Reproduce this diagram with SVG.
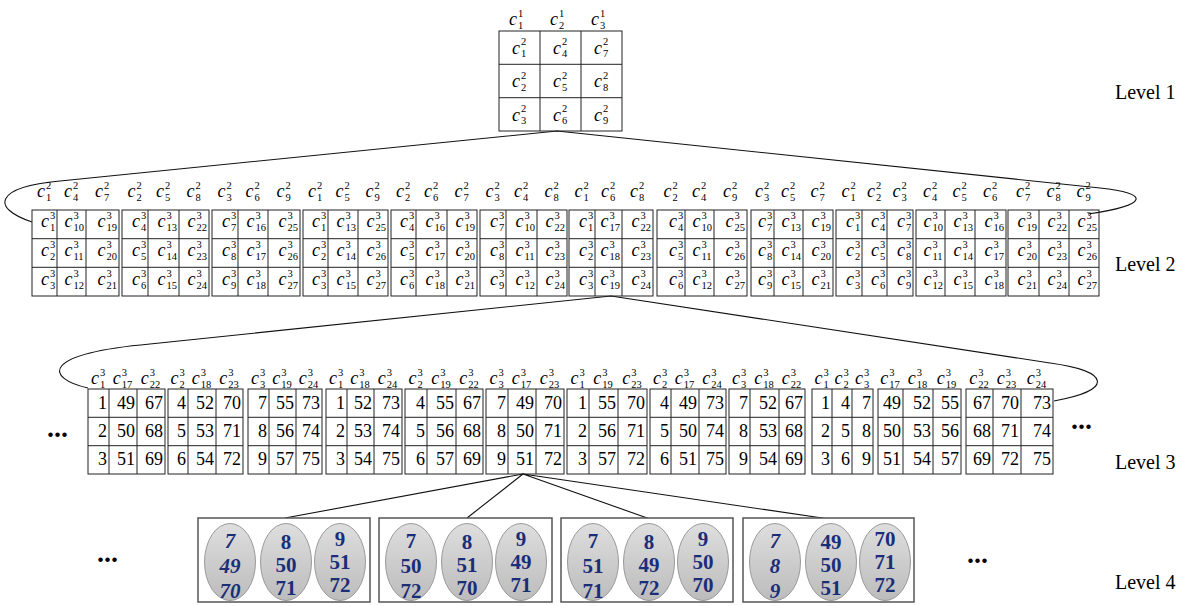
<svg xmlns="http://www.w3.org/2000/svg" width="1192" height="606" viewBox="0 0 1192 606">
<style>
.g rect,.g path{fill:none;stroke:#222;stroke-width:1}
.m{font-family:"Liberation Serif",serif;font-style:italic;font-size:18px;fill:#000}
.m tspan{font-style:normal;font-size:10.5px}
.n{font-family:"Liberation Serif",serif;font-size:18px;text-anchor:end;fill:#000}
.lv{font-family:"Liberation Serif",serif;font-size:20px;fill:#000}
.dots{font-family:"Liberation Serif",serif;font-size:28px;font-weight:bold;text-anchor:middle;fill:#000}
.box{fill:#fff;stroke:#555;stroke-width:1.5}
.el{fill:url(#eg);stroke:#9a9a9a;stroke-width:1}
.t{font-family:"Liberation Serif",serif;font-weight:bold;font-size:21px;fill:#1a2e78;text-anchor:middle}
.i{font-style:italic}
.conn path{fill:none;stroke:#111;stroke-width:1.1}
</style>
<defs>
<linearGradient id="eg" x1="0" y1="0" x2="0" y2="1">
<stop offset="0" stop-color="#dedede"/>
<stop offset="1" stop-color="#bcbcbc"/>
</linearGradient>
</defs>

<g id="connectors" class="conn">
<path d="M32,222 C-10,208 -5,187 60,181 L557,131 L1100,188 C1150,193 1150,205 1088,214"/>
<path d="M88,388 C45,378 40,354 150,344 L611,296 L1050,363 C1110,371 1115,390 1054,401"/>
<path d="M523,474 L285,518 M523,474 L467,518 M523,474 L650,519 M523,474 L829,519"/>
</g>

<g id="level1" class="g">
<rect x="499" y="31" width="123" height="100"/>
<path d="M540 31V131M581 31V131M499 64.3H622M499 97.7H622"/>
<text class="m" transform="translate(518,25)" x="-9">c<tspan x="0" dy="-8.2">1</tspan><tspan x="0" dy="11.7">1</tspan></text>
<text class="m" transform="translate(559,25)" x="-9">c<tspan x="0" dy="-8.2">1</tspan><tspan x="0" dy="11.7">2</tspan></text>
<text class="m" transform="translate(600,25)" x="-9">c<tspan x="0" dy="-8.2">1</tspan><tspan x="0" dy="11.7">3</tspan></text>
<text class="m" transform="translate(521,53.5)" x="-9">c<tspan x="0" dy="-8.2">2</tspan><tspan x="0" dy="11.7">1</tspan></text>
<text class="m" transform="translate(521,87)" x="-9">c<tspan x="0" dy="-8.2">2</tspan><tspan x="0" dy="11.7">2</tspan></text>
<text class="m" transform="translate(521,120.5)" x="-9">c<tspan x="0" dy="-8.2">2</tspan><tspan x="0" dy="11.7">3</tspan></text>
<text class="m" transform="translate(562,53.5)" x="-9">c<tspan x="0" dy="-8.2">2</tspan><tspan x="0" dy="11.7">4</tspan></text>
<text class="m" transform="translate(562,87)" x="-9">c<tspan x="0" dy="-8.2">2</tspan><tspan x="0" dy="11.7">5</tspan></text>
<text class="m" transform="translate(562,120.5)" x="-9">c<tspan x="0" dy="-8.2">2</tspan><tspan x="0" dy="11.7">6</tspan></text>
<text class="m" transform="translate(603,53.5)" x="-9">c<tspan x="0" dy="-8.2">2</tspan><tspan x="0" dy="11.7">7</tspan></text>
<text class="m" transform="translate(603,87)" x="-9">c<tspan x="0" dy="-8.2">2</tspan><tspan x="0" dy="11.7">8</tspan></text>
<text class="m" transform="translate(603,120.5)" x="-9">c<tspan x="0" dy="-8.2">2</tspan><tspan x="0" dy="11.7">9</tspan></text>
</g>

<g id="l2b1" class="g">
<rect x="32" y="210" width="87" height="86"/>
<path d="M57 210V296M86 210V296M32 238.7H119M32 267.3H119"/>
<text class="m" transform="translate(46,197)" x="-9">c<tspan x="0" dy="-8.2">2</tspan><tspan x="0" dy="11.7">1</tspan></text>
<text class="m" transform="translate(73,197)" x="-9">c<tspan x="0" dy="-8.2">2</tspan><tspan x="0" dy="11.7">4</tspan></text>
<text class="m" transform="translate(104,197)" x="-9">c<tspan x="0" dy="-8.2">2</tspan><tspan x="0" dy="11.7">7</tspan></text>
<text class="m" transform="translate(50,227)" x="-9">c<tspan x="0" dy="-8.2">3</tspan><tspan x="0" dy="11.7">1</tspan></text>
<text class="m" transform="translate(50,256)" x="-9">c<tspan x="0" dy="-8.2">3</tspan><tspan x="0" dy="11.7">2</tspan></text>
<text class="m" transform="translate(50,285)" x="-9">c<tspan x="0" dy="-8.2">3</tspan><tspan x="0" dy="11.7">3</tspan></text>
<text class="m" transform="translate(73.5,227)" x="-9">c<tspan x="0" dy="-8.2">3</tspan><tspan x="0" dy="11.7">10</tspan></text>
<text class="m" transform="translate(73.5,256)" x="-9">c<tspan x="0" dy="-8.2">3</tspan><tspan x="0" dy="11.7">11</tspan></text>
<text class="m" transform="translate(73.5,285)" x="-9">c<tspan x="0" dy="-8.2">3</tspan><tspan x="0" dy="11.7">12</tspan></text>
<text class="m" transform="translate(106.5,227)" x="-9">c<tspan x="0" dy="-8.2">3</tspan><tspan x="0" dy="11.7">19</tspan></text>
<text class="m" transform="translate(106.5,256)" x="-9">c<tspan x="0" dy="-8.2">3</tspan><tspan x="0" dy="11.7">20</tspan></text>
<text class="m" transform="translate(106.5,285)" x="-9">c<tspan x="0" dy="-8.2">3</tspan><tspan x="0" dy="11.7">21</tspan></text>
</g>

<g id="l2b2" class="g">
<rect x="122" y="210" width="87" height="86"/>
<path d="M148 210V296M179 210V296M122 238.7H209M122 267.3H209"/>
<text class="m" transform="translate(136.5,197)" x="-9">c<tspan x="0" dy="-8.2">2</tspan><tspan x="0" dy="11.7">2</tspan></text>
<text class="m" transform="translate(165,197)" x="-9">c<tspan x="0" dy="-8.2">2</tspan><tspan x="0" dy="11.7">5</tspan></text>
<text class="m" transform="translate(195.5,197)" x="-9">c<tspan x="0" dy="-8.2">2</tspan><tspan x="0" dy="11.7">8</tspan></text>
<text class="m" transform="translate(141,227)" x="-9">c<tspan x="0" dy="-8.2">3</tspan><tspan x="0" dy="11.7">4</tspan></text>
<text class="m" transform="translate(141,256)" x="-9">c<tspan x="0" dy="-8.2">3</tspan><tspan x="0" dy="11.7">5</tspan></text>
<text class="m" transform="translate(141,285)" x="-9">c<tspan x="0" dy="-8.2">3</tspan><tspan x="0" dy="11.7">6</tspan></text>
<text class="m" transform="translate(166.5,227)" x="-9">c<tspan x="0" dy="-8.2">3</tspan><tspan x="0" dy="11.7">13</tspan></text>
<text class="m" transform="translate(166.5,256)" x="-9">c<tspan x="0" dy="-8.2">3</tspan><tspan x="0" dy="11.7">14</tspan></text>
<text class="m" transform="translate(166.5,285)" x="-9">c<tspan x="0" dy="-8.2">3</tspan><tspan x="0" dy="11.7">15</tspan></text>
<text class="m" transform="translate(196.5,227)" x="-9">c<tspan x="0" dy="-8.2">3</tspan><tspan x="0" dy="11.7">22</tspan></text>
<text class="m" transform="translate(196.5,256)" x="-9">c<tspan x="0" dy="-8.2">3</tspan><tspan x="0" dy="11.7">23</tspan></text>
<text class="m" transform="translate(196.5,285)" x="-9">c<tspan x="0" dy="-8.2">3</tspan><tspan x="0" dy="11.7">24</tspan></text>
</g>

<g id="l2b3" class="g">
<rect x="212" y="210" width="88" height="86"/>
<path d="M238 210V296M268 210V296M212 238.7H300M212 267.3H300"/>
<text class="m" transform="translate(226.5,197)" x="-9">c<tspan x="0" dy="-8.2">2</tspan><tspan x="0" dy="11.7">3</tspan></text>
<text class="m" transform="translate(254.5,197)" x="-9">c<tspan x="0" dy="-8.2">2</tspan><tspan x="0" dy="11.7">6</tspan></text>
<text class="m" transform="translate(285.5,197)" x="-9">c<tspan x="0" dy="-8.2">2</tspan><tspan x="0" dy="11.7">9</tspan></text>
<text class="m" transform="translate(231,227)" x="-9">c<tspan x="0" dy="-8.2">3</tspan><tspan x="0" dy="11.7">7</tspan></text>
<text class="m" transform="translate(231,256)" x="-9">c<tspan x="0" dy="-8.2">3</tspan><tspan x="0" dy="11.7">8</tspan></text>
<text class="m" transform="translate(231,285)" x="-9">c<tspan x="0" dy="-8.2">3</tspan><tspan x="0" dy="11.7">9</tspan></text>
<text class="m" transform="translate(255.5,227)" x="-9">c<tspan x="0" dy="-8.2">3</tspan><tspan x="0" dy="11.7">16</tspan></text>
<text class="m" transform="translate(255.5,256)" x="-9">c<tspan x="0" dy="-8.2">3</tspan><tspan x="0" dy="11.7">17</tspan></text>
<text class="m" transform="translate(255.5,285)" x="-9">c<tspan x="0" dy="-8.2">3</tspan><tspan x="0" dy="11.7">18</tspan></text>
<text class="m" transform="translate(287.5,227)" x="-9">c<tspan x="0" dy="-8.2">3</tspan><tspan x="0" dy="11.7">25</tspan></text>
<text class="m" transform="translate(287.5,256)" x="-9">c<tspan x="0" dy="-8.2">3</tspan><tspan x="0" dy="11.7">26</tspan></text>
<text class="m" transform="translate(287.5,285)" x="-9">c<tspan x="0" dy="-8.2">3</tspan><tspan x="0" dy="11.7">27</tspan></text>
</g>

<g id="l2b4" class="g">
<rect x="303" y="210" width="85" height="86"/>
<path d="M328 210V296M358 210V296M303 238.7H388M303 267.3H388"/>
<text class="m" transform="translate(317,197)" x="-9">c<tspan x="0" dy="-8.2">2</tspan><tspan x="0" dy="11.7">1</tspan></text>
<text class="m" transform="translate(344.5,197)" x="-9">c<tspan x="0" dy="-8.2">2</tspan><tspan x="0" dy="11.7">5</tspan></text>
<text class="m" transform="translate(374.5,197)" x="-9">c<tspan x="0" dy="-8.2">2</tspan><tspan x="0" dy="11.7">9</tspan></text>
<text class="m" transform="translate(321,227)" x="-9">c<tspan x="0" dy="-8.2">3</tspan><tspan x="0" dy="11.7">1</tspan></text>
<text class="m" transform="translate(321,256)" x="-9">c<tspan x="0" dy="-8.2">3</tspan><tspan x="0" dy="11.7">2</tspan></text>
<text class="m" transform="translate(321,285)" x="-9">c<tspan x="0" dy="-8.2">3</tspan><tspan x="0" dy="11.7">3</tspan></text>
<text class="m" transform="translate(345.5,227)" x="-9">c<tspan x="0" dy="-8.2">3</tspan><tspan x="0" dy="11.7">13</tspan></text>
<text class="m" transform="translate(345.5,256)" x="-9">c<tspan x="0" dy="-8.2">3</tspan><tspan x="0" dy="11.7">14</tspan></text>
<text class="m" transform="translate(345.5,285)" x="-9">c<tspan x="0" dy="-8.2">3</tspan><tspan x="0" dy="11.7">15</tspan></text>
<text class="m" transform="translate(375.5,227)" x="-9">c<tspan x="0" dy="-8.2">3</tspan><tspan x="0" dy="11.7">25</tspan></text>
<text class="m" transform="translate(375.5,256)" x="-9">c<tspan x="0" dy="-8.2">3</tspan><tspan x="0" dy="11.7">26</tspan></text>
<text class="m" transform="translate(375.5,285)" x="-9">c<tspan x="0" dy="-8.2">3</tspan><tspan x="0" dy="11.7">27</tspan></text>
</g>

<g id="l2b5" class="g">
<rect x="391" y="210" width="86" height="86"/>
<path d="M416 210V296M447 210V296M391 238.7H477M391 267.3H477"/>
<text class="m" transform="translate(405,197)" x="-9">c<tspan x="0" dy="-8.2">2</tspan><tspan x="0" dy="11.7">2</tspan></text>
<text class="m" transform="translate(433,197)" x="-9">c<tspan x="0" dy="-8.2">2</tspan><tspan x="0" dy="11.7">6</tspan></text>
<text class="m" transform="translate(463.5,197)" x="-9">c<tspan x="0" dy="-8.2">2</tspan><tspan x="0" dy="11.7">7</tspan></text>
<text class="m" transform="translate(409,227)" x="-9">c<tspan x="0" dy="-8.2">3</tspan><tspan x="0" dy="11.7">4</tspan></text>
<text class="m" transform="translate(409,256)" x="-9">c<tspan x="0" dy="-8.2">3</tspan><tspan x="0" dy="11.7">5</tspan></text>
<text class="m" transform="translate(409,285)" x="-9">c<tspan x="0" dy="-8.2">3</tspan><tspan x="0" dy="11.7">6</tspan></text>
<text class="m" transform="translate(434.5,227)" x="-9">c<tspan x="0" dy="-8.2">3</tspan><tspan x="0" dy="11.7">16</tspan></text>
<text class="m" transform="translate(434.5,256)" x="-9">c<tspan x="0" dy="-8.2">3</tspan><tspan x="0" dy="11.7">17</tspan></text>
<text class="m" transform="translate(434.5,285)" x="-9">c<tspan x="0" dy="-8.2">3</tspan><tspan x="0" dy="11.7">18</tspan></text>
<text class="m" transform="translate(464.5,227)" x="-9">c<tspan x="0" dy="-8.2">3</tspan><tspan x="0" dy="11.7">19</tspan></text>
<text class="m" transform="translate(464.5,256)" x="-9">c<tspan x="0" dy="-8.2">3</tspan><tspan x="0" dy="11.7">20</tspan></text>
<text class="m" transform="translate(464.5,285)" x="-9">c<tspan x="0" dy="-8.2">3</tspan><tspan x="0" dy="11.7">21</tspan></text>
</g>

<g id="l2b6" class="g">
<rect x="480" y="210" width="87" height="86"/>
<path d="M506 210V296M537 210V296M480 238.7H567M480 267.3H567"/>
<text class="m" transform="translate(494.5,197)" x="-9">c<tspan x="0" dy="-8.2">2</tspan><tspan x="0" dy="11.7">3</tspan></text>
<text class="m" transform="translate(523,197)" x="-9">c<tspan x="0" dy="-8.2">2</tspan><tspan x="0" dy="11.7">4</tspan></text>
<text class="m" transform="translate(553.5,197)" x="-9">c<tspan x="0" dy="-8.2">2</tspan><tspan x="0" dy="11.7">8</tspan></text>
<text class="m" transform="translate(499,227)" x="-9">c<tspan x="0" dy="-8.2">3</tspan><tspan x="0" dy="11.7">7</tspan></text>
<text class="m" transform="translate(499,256)" x="-9">c<tspan x="0" dy="-8.2">3</tspan><tspan x="0" dy="11.7">8</tspan></text>
<text class="m" transform="translate(499,285)" x="-9">c<tspan x="0" dy="-8.2">3</tspan><tspan x="0" dy="11.7">9</tspan></text>
<text class="m" transform="translate(524.5,227)" x="-9">c<tspan x="0" dy="-8.2">3</tspan><tspan x="0" dy="11.7">10</tspan></text>
<text class="m" transform="translate(524.5,256)" x="-9">c<tspan x="0" dy="-8.2">3</tspan><tspan x="0" dy="11.7">11</tspan></text>
<text class="m" transform="translate(524.5,285)" x="-9">c<tspan x="0" dy="-8.2">3</tspan><tspan x="0" dy="11.7">12</tspan></text>
<text class="m" transform="translate(554.5,227)" x="-9">c<tspan x="0" dy="-8.2">3</tspan><tspan x="0" dy="11.7">22</tspan></text>
<text class="m" transform="translate(554.5,256)" x="-9">c<tspan x="0" dy="-8.2">3</tspan><tspan x="0" dy="11.7">23</tspan></text>
<text class="m" transform="translate(554.5,285)" x="-9">c<tspan x="0" dy="-8.2">3</tspan><tspan x="0" dy="11.7">24</tspan></text>
</g>

<g id="l2b7" class="g">
<rect x="569" y="210" width="84" height="86"/>
<path d="M595 210V296M622 210V296M569 238.7H653M569 267.3H653"/>
<text class="m" transform="translate(583.5,197)" x="-9">c<tspan x="0" dy="-8.2">2</tspan><tspan x="0" dy="11.7">1</tspan></text>
<text class="m" transform="translate(610,197)" x="-9">c<tspan x="0" dy="-8.2">2</tspan><tspan x="0" dy="11.7">6</tspan></text>
<text class="m" transform="translate(639,197)" x="-9">c<tspan x="0" dy="-8.2">2</tspan><tspan x="0" dy="11.7">8</tspan></text>
<text class="m" transform="translate(588,227)" x="-9">c<tspan x="0" dy="-8.2">3</tspan><tspan x="0" dy="11.7">1</tspan></text>
<text class="m" transform="translate(588,256)" x="-9">c<tspan x="0" dy="-8.2">3</tspan><tspan x="0" dy="11.7">2</tspan></text>
<text class="m" transform="translate(588,285)" x="-9">c<tspan x="0" dy="-8.2">3</tspan><tspan x="0" dy="11.7">3</tspan></text>
<text class="m" transform="translate(609.5,227)" x="-9">c<tspan x="0" dy="-8.2">3</tspan><tspan x="0" dy="11.7">17</tspan></text>
<text class="m" transform="translate(609.5,256)" x="-9">c<tspan x="0" dy="-8.2">3</tspan><tspan x="0" dy="11.7">18</tspan></text>
<text class="m" transform="translate(609.5,285)" x="-9">c<tspan x="0" dy="-8.2">3</tspan><tspan x="0" dy="11.7">19</tspan></text>
<text class="m" transform="translate(640.5,227)" x="-9">c<tspan x="0" dy="-8.2">3</tspan><tspan x="0" dy="11.7">22</tspan></text>
<text class="m" transform="translate(640.5,256)" x="-9">c<tspan x="0" dy="-8.2">3</tspan><tspan x="0" dy="11.7">23</tspan></text>
<text class="m" transform="translate(640.5,285)" x="-9">c<tspan x="0" dy="-8.2">3</tspan><tspan x="0" dy="11.7">24</tspan></text>
</g>

<g id="l2b8" class="g">
<rect x="657" y="210" width="90" height="86"/>
<path d="M685 210V296M714 210V296M657 238.7H747M657 267.3H747"/>
<text class="m" transform="translate(672.5,197)" x="-9">c<tspan x="0" dy="-8.2">2</tspan><tspan x="0" dy="11.7">2</tspan></text>
<text class="m" transform="translate(701,197)" x="-9">c<tspan x="0" dy="-8.2">2</tspan><tspan x="0" dy="11.7">4</tspan></text>
<text class="m" transform="translate(732,197)" x="-9">c<tspan x="0" dy="-8.2">2</tspan><tspan x="0" dy="11.7">9</tspan></text>
<text class="m" transform="translate(678,227)" x="-9">c<tspan x="0" dy="-8.2">3</tspan><tspan x="0" dy="11.7">4</tspan></text>
<text class="m" transform="translate(678,256)" x="-9">c<tspan x="0" dy="-8.2">3</tspan><tspan x="0" dy="11.7">5</tspan></text>
<text class="m" transform="translate(678,285)" x="-9">c<tspan x="0" dy="-8.2">3</tspan><tspan x="0" dy="11.7">6</tspan></text>
<text class="m" transform="translate(701.5,227)" x="-9">c<tspan x="0" dy="-8.2">3</tspan><tspan x="0" dy="11.7">10</tspan></text>
<text class="m" transform="translate(701.5,256)" x="-9">c<tspan x="0" dy="-8.2">3</tspan><tspan x="0" dy="11.7">11</tspan></text>
<text class="m" transform="translate(701.5,285)" x="-9">c<tspan x="0" dy="-8.2">3</tspan><tspan x="0" dy="11.7">12</tspan></text>
<text class="m" transform="translate(734.5,227)" x="-9">c<tspan x="0" dy="-8.2">3</tspan><tspan x="0" dy="11.7">25</tspan></text>
<text class="m" transform="translate(734.5,256)" x="-9">c<tspan x="0" dy="-8.2">3</tspan><tspan x="0" dy="11.7">26</tspan></text>
<text class="m" transform="translate(734.5,285)" x="-9">c<tspan x="0" dy="-8.2">3</tspan><tspan x="0" dy="11.7">27</tspan></text>
</g>

<g id="l2b9" class="g">
<rect x="751" y="210" width="82" height="86"/>
<path d="M774 210V296M803 210V296M751 238.7H833M751 267.3H833"/>
<text class="m" transform="translate(764,197)" x="-9">c<tspan x="0" dy="-8.2">2</tspan><tspan x="0" dy="11.7">3</tspan></text>
<text class="m" transform="translate(790,197)" x="-9">c<tspan x="0" dy="-8.2">2</tspan><tspan x="0" dy="11.7">5</tspan></text>
<text class="m" transform="translate(819.5,197)" x="-9">c<tspan x="0" dy="-8.2">2</tspan><tspan x="0" dy="11.7">7</tspan></text>
<text class="m" transform="translate(767,227)" x="-9">c<tspan x="0" dy="-8.2">3</tspan><tspan x="0" dy="11.7">7</tspan></text>
<text class="m" transform="translate(767,256)" x="-9">c<tspan x="0" dy="-8.2">3</tspan><tspan x="0" dy="11.7">8</tspan></text>
<text class="m" transform="translate(767,285)" x="-9">c<tspan x="0" dy="-8.2">3</tspan><tspan x="0" dy="11.7">9</tspan></text>
<text class="m" transform="translate(790.5,227)" x="-9">c<tspan x="0" dy="-8.2">3</tspan><tspan x="0" dy="11.7">13</tspan></text>
<text class="m" transform="translate(790.5,256)" x="-9">c<tspan x="0" dy="-8.2">3</tspan><tspan x="0" dy="11.7">14</tspan></text>
<text class="m" transform="translate(790.5,285)" x="-9">c<tspan x="0" dy="-8.2">3</tspan><tspan x="0" dy="11.7">15</tspan></text>
<text class="m" transform="translate(820.5,227)" x="-9">c<tspan x="0" dy="-8.2">3</tspan><tspan x="0" dy="11.7">19</tspan></text>
<text class="m" transform="translate(820.5,256)" x="-9">c<tspan x="0" dy="-8.2">3</tspan><tspan x="0" dy="11.7">20</tspan></text>
<text class="m" transform="translate(820.5,285)" x="-9">c<tspan x="0" dy="-8.2">3</tspan><tspan x="0" dy="11.7">21</tspan></text>
</g>

<g id="l2b10" class="g">
<rect x="836" y="210" width="77" height="86"/>
<path d="M862 210V296M887 210V296M836 238.7H913M836 267.3H913"/>
<text class="m" transform="translate(850.5,197)" x="-9">c<tspan x="0" dy="-8.2">2</tspan><tspan x="0" dy="11.7">1</tspan></text>
<text class="m" transform="translate(876,197)" x="-9">c<tspan x="0" dy="-8.2">2</tspan><tspan x="0" dy="11.7">2</tspan></text>
<text class="m" transform="translate(901.5,197)" x="-9">c<tspan x="0" dy="-8.2">2</tspan><tspan x="0" dy="11.7">3</tspan></text>
<text class="m" transform="translate(855,227)" x="-9">c<tspan x="0" dy="-8.2">3</tspan><tspan x="0" dy="11.7">1</tspan></text>
<text class="m" transform="translate(855,256)" x="-9">c<tspan x="0" dy="-8.2">3</tspan><tspan x="0" dy="11.7">2</tspan></text>
<text class="m" transform="translate(855,285)" x="-9">c<tspan x="0" dy="-8.2">3</tspan><tspan x="0" dy="11.7">3</tspan></text>
<text class="m" transform="translate(880,227)" x="-9">c<tspan x="0" dy="-8.2">3</tspan><tspan x="0" dy="11.7">4</tspan></text>
<text class="m" transform="translate(880,256)" x="-9">c<tspan x="0" dy="-8.2">3</tspan><tspan x="0" dy="11.7">5</tspan></text>
<text class="m" transform="translate(880,285)" x="-9">c<tspan x="0" dy="-8.2">3</tspan><tspan x="0" dy="11.7">6</tspan></text>
<text class="m" transform="translate(906,227)" x="-9">c<tspan x="0" dy="-8.2">3</tspan><tspan x="0" dy="11.7">7</tspan></text>
<text class="m" transform="translate(906,256)" x="-9">c<tspan x="0" dy="-8.2">3</tspan><tspan x="0" dy="11.7">8</tspan></text>
<text class="m" transform="translate(906,285)" x="-9">c<tspan x="0" dy="-8.2">3</tspan><tspan x="0" dy="11.7">9</tspan></text>
</g>

<g id="l2b11" class="g">
<rect x="916" y="210" width="90" height="86"/>
<path d="M945 210V296M975 210V296M916 238.7H1006M916 267.3H1006"/>
<text class="m" transform="translate(932,197)" x="-9">c<tspan x="0" dy="-8.2">2</tspan><tspan x="0" dy="11.7">4</tspan></text>
<text class="m" transform="translate(961.5,197)" x="-9">c<tspan x="0" dy="-8.2">2</tspan><tspan x="0" dy="11.7">5</tspan></text>
<text class="m" transform="translate(992,197)" x="-9">c<tspan x="0" dy="-8.2">2</tspan><tspan x="0" dy="11.7">6</tspan></text>
<text class="m" transform="translate(932.5,227)" x="-9">c<tspan x="0" dy="-8.2">3</tspan><tspan x="0" dy="11.7">10</tspan></text>
<text class="m" transform="translate(932.5,256)" x="-9">c<tspan x="0" dy="-8.2">3</tspan><tspan x="0" dy="11.7">11</tspan></text>
<text class="m" transform="translate(932.5,285)" x="-9">c<tspan x="0" dy="-8.2">3</tspan><tspan x="0" dy="11.7">12</tspan></text>
<text class="m" transform="translate(962.5,227)" x="-9">c<tspan x="0" dy="-8.2">3</tspan><tspan x="0" dy="11.7">13</tspan></text>
<text class="m" transform="translate(962.5,256)" x="-9">c<tspan x="0" dy="-8.2">3</tspan><tspan x="0" dy="11.7">14</tspan></text>
<text class="m" transform="translate(962.5,285)" x="-9">c<tspan x="0" dy="-8.2">3</tspan><tspan x="0" dy="11.7">15</tspan></text>
<text class="m" transform="translate(993.5,227)" x="-9">c<tspan x="0" dy="-8.2">3</tspan><tspan x="0" dy="11.7">16</tspan></text>
<text class="m" transform="translate(993.5,256)" x="-9">c<tspan x="0" dy="-8.2">3</tspan><tspan x="0" dy="11.7">17</tspan></text>
<text class="m" transform="translate(993.5,285)" x="-9">c<tspan x="0" dy="-8.2">3</tspan><tspan x="0" dy="11.7">18</tspan></text>
</g>

<g id="l2b12" class="g">
<rect x="1008" y="210" width="91" height="86"/>
<path d="M1039 210V296M1069 210V296M1008 238.7H1099M1008 267.3H1099"/>
<text class="m" transform="translate(1025,197)" x="-9">c<tspan x="0" dy="-8.2">2</tspan><tspan x="0" dy="11.7">7</tspan></text>
<text class="m" transform="translate(1055.5,197)" x="-9">c<tspan x="0" dy="-8.2">2</tspan><tspan x="0" dy="11.7">8</tspan></text>
<text class="m" transform="translate(1085.5,197)" x="-9">c<tspan x="0" dy="-8.2">2</tspan><tspan x="0" dy="11.7">9</tspan></text>
<text class="m" transform="translate(1026.5,227)" x="-9">c<tspan x="0" dy="-8.2">3</tspan><tspan x="0" dy="11.7">19</tspan></text>
<text class="m" transform="translate(1026.5,256)" x="-9">c<tspan x="0" dy="-8.2">3</tspan><tspan x="0" dy="11.7">20</tspan></text>
<text class="m" transform="translate(1026.5,285)" x="-9">c<tspan x="0" dy="-8.2">3</tspan><tspan x="0" dy="11.7">21</tspan></text>
<text class="m" transform="translate(1056.5,227)" x="-9">c<tspan x="0" dy="-8.2">3</tspan><tspan x="0" dy="11.7">22</tspan></text>
<text class="m" transform="translate(1056.5,256)" x="-9">c<tspan x="0" dy="-8.2">3</tspan><tspan x="0" dy="11.7">23</tspan></text>
<text class="m" transform="translate(1056.5,285)" x="-9">c<tspan x="0" dy="-8.2">3</tspan><tspan x="0" dy="11.7">24</tspan></text>
<text class="m" transform="translate(1086.5,227)" x="-9">c<tspan x="0" dy="-8.2">3</tspan><tspan x="0" dy="11.7">25</tspan></text>
<text class="m" transform="translate(1086.5,256)" x="-9">c<tspan x="0" dy="-8.2">3</tspan><tspan x="0" dy="11.7">26</tspan></text>
<text class="m" transform="translate(1086.5,285)" x="-9">c<tspan x="0" dy="-8.2">3</tspan><tspan x="0" dy="11.7">27</tspan></text>
</g>

<g id="l3b1" class="g">
<rect x="88" y="389" width="77" height="85"/>
<path d="M109 389V474M137 389V474M88 417.3H165M88 445.7H165"/>
<text class="m" transform="translate(100,384)" x="-9">c<tspan x="0" dy="-8.2">3</tspan><tspan x="0" dy="11.7">1</tspan></text>
<text class="m" transform="translate(121.75,384)" x="-9">c<tspan x="0" dy="-8.2">3</tspan><tspan x="0" dy="11.7">17</tspan></text>
<text class="m" transform="translate(149.75,384)" x="-9">c<tspan x="0" dy="-8.2">3</tspan><tspan x="0" dy="11.7">22</tspan></text>
<text class="n" x="107" y="409">1<tspan x="107" dy="28">2</tspan><tspan x="107" dy="28">3</tspan></text>
<text class="n" x="135" y="409">49<tspan x="135" dy="28">50</tspan><tspan x="135" dy="28">51</tspan></text>
<text class="n" x="163" y="409">67<tspan x="163" dy="28">68</tspan><tspan x="163" dy="28">69</tspan></text>
</g>

<g id="l3b2" class="g">
<rect x="168" y="389" width="75" height="85"/>
<path d="M188 389V474M216 389V474M168 417.3H243M168 445.7H243"/>
<text class="m" transform="translate(179.5,384)" x="-9">c<tspan x="0" dy="-8.2">3</tspan><tspan x="0" dy="11.7">2</tspan></text>
<text class="m" transform="translate(200.75,384)" x="-9">c<tspan x="0" dy="-8.2">3</tspan><tspan x="0" dy="11.7">18</tspan></text>
<text class="m" transform="translate(228.25,384)" x="-9">c<tspan x="0" dy="-8.2">3</tspan><tspan x="0" dy="11.7">23</tspan></text>
<text class="n" x="186" y="409">4<tspan x="186" dy="28">5</tspan><tspan x="186" dy="28">6</tspan></text>
<text class="n" x="214" y="409">52<tspan x="214" dy="28">53</tspan><tspan x="214" dy="28">54</tspan></text>
<text class="n" x="241" y="409">70<tspan x="241" dy="28">71</tspan><tspan x="241" dy="28">72</tspan></text>
</g>

<g id="l3b3" class="g">
<rect x="248" y="389" width="74" height="85"/>
<path d="M269 389V474M296 389V474M248 417.3H322M248 445.7H322"/>
<text class="m" transform="translate(260,384)" x="-9">c<tspan x="0" dy="-8.2">3</tspan><tspan x="0" dy="11.7">3</tspan></text>
<text class="m" transform="translate(281.25,384)" x="-9">c<tspan x="0" dy="-8.2">3</tspan><tspan x="0" dy="11.7">19</tspan></text>
<text class="m" transform="translate(307.75,384)" x="-9">c<tspan x="0" dy="-8.2">3</tspan><tspan x="0" dy="11.7">24</tspan></text>
<text class="n" x="267" y="409">7<tspan x="267" dy="28">8</tspan><tspan x="267" dy="28">9</tspan></text>
<text class="n" x="294" y="409">55<tspan x="294" dy="28">56</tspan><tspan x="294" dy="28">57</tspan></text>
<text class="n" x="320" y="409">73<tspan x="320" dy="28">74</tspan><tspan x="320" dy="28">75</tspan></text>
</g>

<g id="l3b4" class="g">
<rect x="326" y="389" width="76" height="85"/>
<path d="M347 389V474M374 389V474M326 417.3H402M326 445.7H402"/>
<text class="m" transform="translate(338,384)" x="-9">c<tspan x="0" dy="-8.2">3</tspan><tspan x="0" dy="11.7">1</tspan></text>
<text class="m" transform="translate(359.25,384)" x="-9">c<tspan x="0" dy="-8.2">3</tspan><tspan x="0" dy="11.7">18</tspan></text>
<text class="m" transform="translate(386.75,384)" x="-9">c<tspan x="0" dy="-8.2">3</tspan><tspan x="0" dy="11.7">24</tspan></text>
<text class="n" x="345" y="409">1<tspan x="345" dy="28">2</tspan><tspan x="345" dy="28">3</tspan></text>
<text class="n" x="372" y="409">52<tspan x="372" dy="28">53</tspan><tspan x="372" dy="28">54</tspan></text>
<text class="n" x="400" y="409">73<tspan x="400" dy="28">74</tspan><tspan x="400" dy="28">75</tspan></text>
</g>

<g id="l3b5" class="g">
<rect x="405" y="389" width="78" height="85"/>
<path d="M427 389V474M456 389V474M405 417.3H483M405 445.7H483"/>
<text class="m" transform="translate(417.5,384)" x="-9">c<tspan x="0" dy="-8.2">3</tspan><tspan x="0" dy="11.7">2</tspan></text>
<text class="m" transform="translate(440.25,384)" x="-9">c<tspan x="0" dy="-8.2">3</tspan><tspan x="0" dy="11.7">19</tspan></text>
<text class="m" transform="translate(468.25,384)" x="-9">c<tspan x="0" dy="-8.2">3</tspan><tspan x="0" dy="11.7">22</tspan></text>
<text class="n" x="425" y="409">4<tspan x="425" dy="28">5</tspan><tspan x="425" dy="28">6</tspan></text>
<text class="n" x="454" y="409">55<tspan x="454" dy="28">56</tspan><tspan x="454" dy="28">57</tspan></text>
<text class="n" x="481" y="409">67<tspan x="481" dy="28">68</tspan><tspan x="481" dy="28">69</tspan></text>
</g>

<g id="l3b6" class="g">
<rect x="486" y="389" width="78" height="85"/>
<path d="M508 389V474M536 389V474M486 417.3H564M486 445.7H564"/>
<text class="m" transform="translate(498.5,384)" x="-9">c<tspan x="0" dy="-8.2">3</tspan><tspan x="0" dy="11.7">3</tspan></text>
<text class="m" transform="translate(520.75,384)" x="-9">c<tspan x="0" dy="-8.2">3</tspan><tspan x="0" dy="11.7">17</tspan></text>
<text class="m" transform="translate(548.75,384)" x="-9">c<tspan x="0" dy="-8.2">3</tspan><tspan x="0" dy="11.7">23</tspan></text>
<text class="n" x="506" y="409">7<tspan x="506" dy="28">8</tspan><tspan x="506" dy="28">9</tspan></text>
<text class="n" x="534" y="409">49<tspan x="534" dy="28">50</tspan><tspan x="534" dy="28">51</tspan></text>
<text class="n" x="562" y="409">70<tspan x="562" dy="28">71</tspan><tspan x="562" dy="28">72</tspan></text>
</g>

<g id="l3b7" class="g">
<rect x="567" y="389" width="80" height="85"/>
<path d="M589 389V474M618 389V474M567 417.3H647M567 445.7H647"/>
<text class="m" transform="translate(579.5,384)" x="-9">c<tspan x="0" dy="-8.2">3</tspan><tspan x="0" dy="11.7">1</tspan></text>
<text class="m" transform="translate(602.25,384)" x="-9">c<tspan x="0" dy="-8.2">3</tspan><tspan x="0" dy="11.7">19</tspan></text>
<text class="m" transform="translate(631.25,384)" x="-9">c<tspan x="0" dy="-8.2">3</tspan><tspan x="0" dy="11.7">23</tspan></text>
<text class="n" x="587" y="409">1<tspan x="587" dy="28">2</tspan><tspan x="587" dy="28">3</tspan></text>
<text class="n" x="616" y="409">55<tspan x="616" dy="28">56</tspan><tspan x="616" dy="28">57</tspan></text>
<text class="n" x="645" y="409">70<tspan x="645" dy="28">71</tspan><tspan x="645" dy="28">72</tspan></text>
</g>

<g id="l3b8" class="g">
<rect x="650" y="389" width="76" height="85"/>
<path d="M671 389V474M699 389V474M650 417.3H726M650 445.7H726"/>
<text class="m" transform="translate(662,384)" x="-9">c<tspan x="0" dy="-8.2">3</tspan><tspan x="0" dy="11.7">2</tspan></text>
<text class="m" transform="translate(683.75,384)" x="-9">c<tspan x="0" dy="-8.2">3</tspan><tspan x="0" dy="11.7">17</tspan></text>
<text class="m" transform="translate(711.25,384)" x="-9">c<tspan x="0" dy="-8.2">3</tspan><tspan x="0" dy="11.7">24</tspan></text>
<text class="n" x="669" y="409">4<tspan x="669" dy="28">5</tspan><tspan x="669" dy="28">6</tspan></text>
<text class="n" x="697" y="409">49<tspan x="697" dy="28">50</tspan><tspan x="697" dy="28">51</tspan></text>
<text class="n" x="724" y="409">73<tspan x="724" dy="28">74</tspan><tspan x="724" dy="28">75</tspan></text>
</g>

<g id="l3b9" class="g">
<rect x="729" y="389" width="76" height="85"/>
<path d="M750 389V474M779 389V474M729 417.3H805M729 445.7H805"/>
<text class="m" transform="translate(741,384)" x="-9">c<tspan x="0" dy="-8.2">3</tspan><tspan x="0" dy="11.7">3</tspan></text>
<text class="m" transform="translate(763.25,384)" x="-9">c<tspan x="0" dy="-8.2">3</tspan><tspan x="0" dy="11.7">18</tspan></text>
<text class="m" transform="translate(790.75,384)" x="-9">c<tspan x="0" dy="-8.2">3</tspan><tspan x="0" dy="11.7">22</tspan></text>
<text class="n" x="748" y="409">7<tspan x="748" dy="28">8</tspan><tspan x="748" dy="28">9</tspan></text>
<text class="n" x="777" y="409">52<tspan x="777" dy="28">53</tspan><tspan x="777" dy="28">54</tspan></text>
<text class="n" x="803" y="409">67<tspan x="803" dy="28">68</tspan><tspan x="803" dy="28">69</tspan></text>
</g>

<g id="l3b10" class="g">
<rect x="812" y="389" width="61" height="85"/>
<path d="M832 389V474M852 389V474M812 417.3H873M812 445.7H873"/>
<text class="m" transform="translate(823.5,384)" x="-9">c<tspan x="0" dy="-8.2">3</tspan><tspan x="0" dy="11.7">1</tspan></text>
<text class="m" transform="translate(843.5,384)" x="-9">c<tspan x="0" dy="-8.2">3</tspan><tspan x="0" dy="11.7">2</tspan></text>
<text class="m" transform="translate(864,384)" x="-9">c<tspan x="0" dy="-8.2">3</tspan><tspan x="0" dy="11.7">3</tspan></text>
<text class="n" x="830" y="409">1<tspan x="830" dy="28">2</tspan><tspan x="830" dy="28">3</tspan></text>
<text class="n" x="850" y="409">4<tspan x="850" dy="28">5</tspan><tspan x="850" dy="28">6</tspan></text>
<text class="n" x="871" y="409">7<tspan x="871" dy="28">8</tspan><tspan x="871" dy="28">9</tspan></text>
</g>

<g id="l3b11" class="g">
<rect x="878" y="389" width="83" height="85"/>
<path d="M903 389V474M933 389V474M878 417.3H961M878 445.7H961"/>
<text class="m" transform="translate(889.25,384)" x="-9">c<tspan x="0" dy="-8.2">3</tspan><tspan x="0" dy="11.7">17</tspan></text>
<text class="m" transform="translate(916.75,384)" x="-9">c<tspan x="0" dy="-8.2">3</tspan><tspan x="0" dy="11.7">18</tspan></text>
<text class="m" transform="translate(945.75,384)" x="-9">c<tspan x="0" dy="-8.2">3</tspan><tspan x="0" dy="11.7">19</tspan></text>
<text class="n" x="901" y="409">49<tspan x="901" dy="28">50</tspan><tspan x="901" dy="28">51</tspan></text>
<text class="n" x="931" y="409">52<tspan x="931" dy="28">53</tspan><tspan x="931" dy="28">54</tspan></text>
<text class="n" x="959" y="409">55<tspan x="959" dy="28">56</tspan><tspan x="959" dy="28">57</tspan></text>
</g>

<g id="l3b12" class="g">
<rect x="966" y="389" width="87" height="85"/>
<path d="M993 389V474M1021 389V474M966 417.3H1053M966 445.7H1053"/>
<text class="m" transform="translate(978.25,384)" x="-9">c<tspan x="0" dy="-8.2">3</tspan><tspan x="0" dy="11.7">22</tspan></text>
<text class="m" transform="translate(1005.75,384)" x="-9">c<tspan x="0" dy="-8.2">3</tspan><tspan x="0" dy="11.7">23</tspan></text>
<text class="m" transform="translate(1035.75,384)" x="-9">c<tspan x="0" dy="-8.2">3</tspan><tspan x="0" dy="11.7">24</tspan></text>
<text class="n" x="991" y="409">67<tspan x="991" dy="28">68</tspan><tspan x="991" dy="28">69</tspan></text>
<text class="n" x="1019" y="409">70<tspan x="1019" dy="28">71</tspan><tspan x="1019" dy="28">72</tspan></text>
<text class="n" x="1051" y="409">73<tspan x="1051" dy="28">74</tspan><tspan x="1051" dy="28">75</tspan></text>
</g>

<g id="l4b1">
<rect class="box" x="198" y="518" width="172" height="84"/>
<ellipse class="el" cx="230" cy="562" rx="25.5" ry="38.5"/>
<ellipse class="el" cx="286" cy="562" rx="25.5" ry="38.5"/>
<ellipse class="el" cx="340" cy="562" rx="25.5" ry="38.5"/>
<text class="t i" x="230" y="548">7<tspan x="230" dy="25">49</tspan><tspan x="230" dy="25">70</tspan></text>
<text class="t" x="286" y="549">8<tspan x="286" dy="23">50</tspan><tspan x="286" dy="23">71</tspan></text>
<text class="t" x="340" y="546">9<tspan x="340" dy="23">51</tspan><tspan x="340" dy="23">72</tspan></text>
</g>

<g id="l4b2">
<rect class="box" x="379" y="518" width="173" height="84"/>
<ellipse class="el" cx="411" cy="562" rx="25.5" ry="38.5"/>
<ellipse class="el" cx="467" cy="562" rx="25.5" ry="38.5"/>
<ellipse class="el" cx="521" cy="562" rx="25.5" ry="38.5"/>
<text class="t" x="411" y="548">7<tspan x="411" dy="25">50</tspan><tspan x="411" dy="25">72</tspan></text>
<text class="t" x="467" y="549">8<tspan x="467" dy="23">51</tspan><tspan x="467" dy="23">70</tspan></text>
<text class="t" x="521" y="546">9<tspan x="521" dy="23">49</tspan><tspan x="521" dy="23">71</tspan></text>
</g>

<g id="l4b3">
<rect class="box" x="561" y="518" width="172" height="84"/>
<ellipse class="el" cx="593" cy="562" rx="25.5" ry="38.5"/>
<ellipse class="el" cx="649" cy="562" rx="25.5" ry="38.5"/>
<ellipse class="el" cx="703" cy="562" rx="25.5" ry="38.5"/>
<text class="t" x="593" y="548">7<tspan x="593" dy="25">51</tspan><tspan x="593" dy="25">71</tspan></text>
<text class="t" x="649" y="549">8<tspan x="649" dy="23">49</tspan><tspan x="649" dy="23">72</tspan></text>
<text class="t" x="703" y="546">9<tspan x="703" dy="23">50</tspan><tspan x="703" dy="23">70</tspan></text>
</g>

<g id="l4b4">
<rect class="box" x="743" y="518" width="171" height="84"/>
<ellipse class="el" cx="775" cy="562" rx="25.5" ry="38.5"/>
<ellipse class="el" cx="831" cy="562" rx="25.5" ry="38.5"/>
<ellipse class="el" cx="885" cy="562" rx="25.5" ry="38.5"/>
<text class="t i" x="775" y="548">7<tspan x="775" dy="25">8</tspan><tspan x="775" dy="25">9</tspan></text>
<text class="t" x="831" y="549">49<tspan x="831" dy="23">50</tspan><tspan x="831" dy="23">51</tspan></text>
<text class="t" x="885" y="546">70<tspan x="885" dy="23">71</tspan><tspan x="885" dy="23">72</tspan></text>
</g>

<g id="ellipses">
<text class="dots" x="57.5" y="436.5">...</text>
<text class="dots" x="1081.5" y="428.5">...</text>
<text class="dots" x="107.5" y="561.5">...</text>
<text class="dots" x="977.5" y="563">...</text>
</g>

<g id="levels">
<text class="lv" x="1115" y="99">Level 1</text>
<text class="lv" x="1115" y="271">Level 2</text>
<text class="lv" x="1115" y="469">Level 3</text>
<text class="lv" x="1115" y="589">Level 4</text>
</g>
</svg>
